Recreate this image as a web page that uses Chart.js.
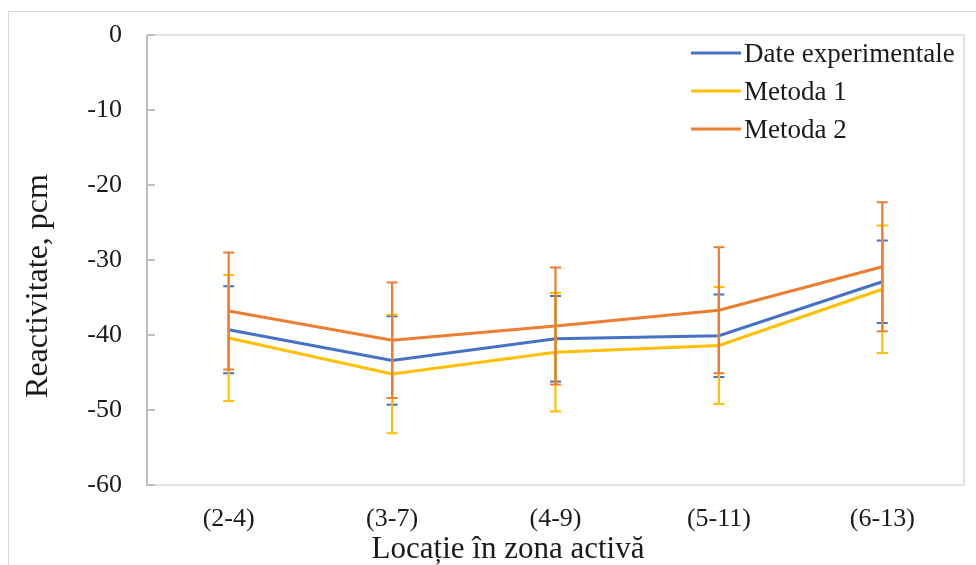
<!DOCTYPE html>
<html>
<head>
<meta charset="utf-8">
<script src="https://cdn.jsdelivr.net/npm/chart.js@4.4.1/dist/chart.umd.min.js"></script>
<style>
  html, body { margin: 0; padding: 0; background: #fff; }
  #wrap { position: relative; width: 976px; height: 565px; }
  #frame { position: absolute; left: 8px; top: 11px; right: -2px; bottom: -2px;
           border-left: 1.5px solid #d9d9d9; border-top: 1.5px solid #d9d9d9; }
  canvas { position: absolute; left: 0; top: 0; }
</style>
</head>
<body>
<div id="wrap">
  <div id="frame"></div>
  <canvas id="chart" width="976" height="565"></canvas>
</div>
<script>
// categorii (axa X)
const locatii = ['(2-4)', '(3-7)', '(4-9)', '(5-11)', '(6-13)'];

// valori, pcm
const dateExperimentale = [-39.3, -43.4, -40.5, -40.1, -32.9];
const metoda1 = [-40.4, -45.2, -42.3, -41.4, -33.9];
const metoda2 = [-36.8, -40.7, -38.8, -36.7, -30.9];

// erori (+/-) pentru fiecare punct
const eroareExp = [5.8, 5.9, 5.7, 5.5, 5.5];
const eroareM1 = [8.4, 7.9, 7.9, 7.8, 8.5];
const eroareM2 = [7.8, 7.7, 7.8, 8.4, 8.6];

// axa Y
const yMin = -60;
const yMax = 0;
const yPas = 10;

const serif = "'Liberation Serif', 'Times New Roman', serif";
const culoareText = '#1a1a1a';

const serii = [
    { nume: 'Date experimentale', valori: dateExperimentale, erori: eroareExp, culoare: '#4472c4' },
    { nume: 'Metoda 1', valori: metoda1, erori: eroareM1, culoare: '#ffc000' },
    { nume: 'Metoda 2', valori: metoda2, erori: eroareM2, culoare: '#ed7d31' }
];

// chenarul zonei de desen + gradatiile interioare de pe axa Y
const chenarPlugin = {
    id: 'chenar',
    beforeDatasetsDraw(chart) {
        const { ctx, chartArea: a } = chart;
        const y = chart.scales.y;
        ctx.save();
        ctx.strokeStyle = '#d9d9d9';
        ctx.lineWidth = 1.5;
        ctx.beginPath();
        ctx.moveTo(a.left, a.top);
        ctx.lineTo(a.right, a.top);
        ctx.lineTo(a.right, a.bottom);
        ctx.lineTo(a.left, a.bottom);
        ctx.stroke();
        ctx.strokeStyle = '#bfbfbf';
        ctx.lineWidth = 2;
        ctx.beginPath();
        ctx.moveTo(a.left, a.top);
        ctx.lineTo(a.left, a.bottom + 1);
        y.ticks.forEach(t => {
            const py = y.getPixelForValue(t.value);
            ctx.moveTo(a.left, py);
            ctx.lineTo(a.left + 8, py);
        });
        ctx.stroke();
        ctx.restore();
    }
};

// barele de eroare, desenate prin scala Y
const eroriPlugin = {
    id: 'erori',
    afterDatasetsDraw(chart) {
        const { ctx } = chart;
        const y = chart.scales.y;
        ctx.save();
        ctx.lineWidth = 2.2;
        serii.forEach((s, i) => {
            const meta = chart.getDatasetMeta(i);
            ctx.strokeStyle = s.culoare;
            meta.data.forEach((p, j) => {
                const sus = y.getPixelForValue(s.valori[j] + s.erori[j]);
                const jos = y.getPixelForValue(s.valori[j] - s.erori[j]);
                ctx.beginPath();
                ctx.moveTo(p.x, sus);
                ctx.lineTo(p.x, jos);
                ctx.moveTo(p.x - 5.5, sus);
                ctx.lineTo(p.x + 5.5, sus);
                ctx.moveTo(p.x - 5.5, jos);
                ctx.lineTo(p.x + 5.5, jos);
                ctx.stroke();
            });
        });
        ctx.restore();
    }
};

// legenda si titlurile axelor
const textePlugin = {
    id: 'texte',
    afterDraw(chart) {
        const { ctx } = chart;
        ctx.save();
        ctx.fillStyle = culoareText;
        ctx.font = '27px ' + serif;
        ctx.textAlign = 'left';
        ctx.textBaseline = 'alphabetic';
        serii.forEach((s, i) => {
            const ry = 53 + i * 38;
            ctx.strokeStyle = s.culoare;
            ctx.lineWidth = 3;
            ctx.beginPath();
            ctx.moveTo(691, ry);
            ctx.lineTo(741, ry);
            ctx.stroke();
            ctx.fillText(s.nume, 744, ry + 9);
        });

        ctx.font = '31px ' + serif;
        ctx.textAlign = 'center';
        ctx.textBaseline = 'alphabetic';
        ctx.fillText('Locație în zona activă', 508, 558);

        ctx.translate(47, 286);
        ctx.rotate(-Math.PI / 2);
        ctx.font = '32px ' + serif;
        ctx.fillText('Reactivitate, pcm', 0, 0);
        ctx.restore();
    }
};

new Chart(document.getElementById('chart'), {
    type: 'line',
    data: {
        labels: locatii,
        datasets: serii.map(s => ({
            label: s.nume,
            data: s.valori,
            borderColor: s.culoare,
            backgroundColor: s.culoare,
            borderWidth: 3,
            pointRadius: 0,
            tension: 0,
            fill: false
        }))
    },
    options: {
        responsive: false,
        animation: false,
        devicePixelRatio: 1,
        layout: { padding: { left: 0, top: 35, right: 12, bottom: 0 } },
        plugins: {
            legend: { display: false },
            tooltip: { enabled: false }
        },
        scales: {
            x: {
                offset: true,
                grid: { display: false, drawTicks: false },
                border: { display: false },
                ticks: {
                    padding: 19,
                    color: culoareText,
                    font: { family: serif, size: 26 },
                    maxRotation: 0
                },
                afterFit: s => { s.height = 80; }
            },
            y: {
                min: yMin,
                max: yMax,
                grid: { display: false, drawTicks: false },
                border: { display: false },
                ticks: {
                    stepSize: yPas,
                    padding: 25,
                    color: culoareText,
                    // lineHeight mic ca eticheta "0" sa nu impinga zona de desen in jos
                    font: { family: serif, size: 26, lineHeight: 0.75 }
                },
                afterFit: s => { s.width = 147; }
            }
        }
    },
    plugins: [chenarPlugin, eroriPlugin, textePlugin]
});
</script>
</body>
</html>
